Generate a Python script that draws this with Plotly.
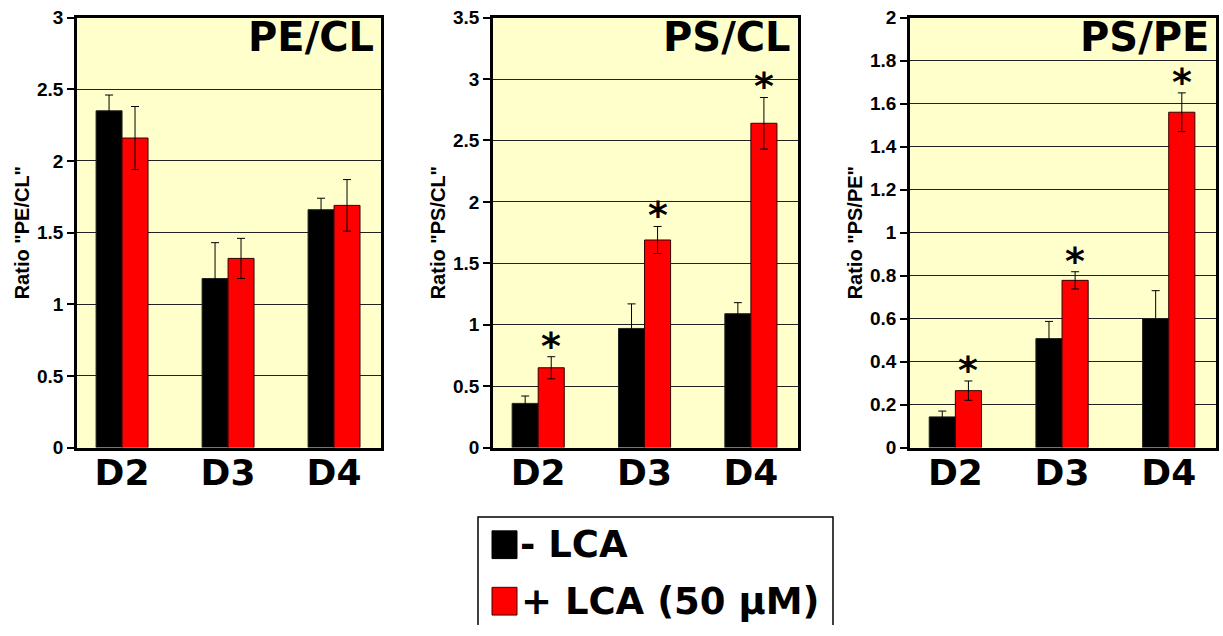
import plotly.graph_objects as go

# ---------------- data ----------------
categories = ["D2", "D3", "D4"]
series_names = ["- LCA", "+ LCA (50 µM)"]

pecl_minus = [2.35, 1.18, 1.66]
pecl_minus_err = [0.11, 0.25, 0.08]
pecl_plus = [2.16, 1.32, 1.69]
pecl_plus_err = [0.22, 0.14, 0.18]

pscl_minus = [0.36, 0.97, 1.09]
pscl_minus_err = [0.06, 0.20, 0.09]
pscl_plus = [0.65, 1.69, 2.64]
pscl_plus_err = [0.09, 0.11, 0.21]

pspe_minus = [0.143, 0.507, 0.60]
pspe_minus_err = [0.027, 0.08, 0.13]
pspe_plus = [0.265, 0.778, 1.56]
pspe_plus_err = [0.045, 0.04, 0.09]

pecl_ticks = ["0", "0.5", "1", "1.5", "2", "2.5", "3"]
pscl_ticks = ["0", "0.5", "1", "1.5", "2", "2.5", "3", "3.5"]
pspe_ticks = ["0", "0.2", "0.4", "0.6", "0.8", "1", "1.2", "1.4", "1.6", "1.8", "2"]

panel_titles = ["PE/CL", "PS/CL", "PS/PE"]
y_titles = ['Ratio "PE/CL"', 'Ratio "PS/CL"', 'Ratio "PS/PE"']
y_tick_labels = [pecl_ticks, pscl_ticks, pspe_ticks]
significant = [[False, False, False], [True, True, True], [True, True, True]]

panels = [
    (pecl_minus, pecl_minus_err, pecl_plus, pecl_plus_err),
    (pscl_minus, pscl_minus_err, pscl_plus, pscl_plus_err),
    (pspe_minus, pspe_minus_err, pspe_plus, pspe_plus_err),
]

# ---------------- layout helpers ----------------
W, H = 1223, 636
def px(x):
    return x / W
def ry(y):
    # compensate the vertical mapping observed in the photographed page
    return (y - 6.3) / 0.976
def py(y):
    return 1 - ry(y) / H

x_domains = [[px(77), px(381)], [px(493), px(798)], [px(910), px(1216)]]
y_domain = [py(448), py(14)]
x_range = [-0.425, 2.443]
x_pos = list(range(len(categories)))

BLACK = "#000000"
RED = "#FF0000"
ARIAL = "Liberation Sans, Arial"
BIGFONT = "DejaVu Sans, Verdana"

fig = go.Figure()
layout = dict(
    width=W, height=H,
    margin=dict(l=0, r=0, t=0, b=0),
    paper_bgcolor="white",
    plot_bgcolor="#FFFFCC",
    barmode="group",
    bargap=0.51,
    bargroupgap=0,
    showlegend=False,
)

annotations = []
for i, (m, me, p, pe) in enumerate(panels):
    sfx = "" if i == 0 else str(i + 1)
    xa, ya = "x" + sfx, "y" + sfx
    fig.add_trace(go.Bar(
        x=x_pos, y=m, name=series_names[0], xaxis=xa, yaxis=ya,
        marker=dict(color=BLACK, line=dict(color="#222222", width=1)),
        error_y=dict(type="data", array=me, color="black", thickness=1, width=4),
        showlegend=False,
    ))
    fig.add_trace(go.Bar(
        x=x_pos, y=p, name=series_names[1], xaxis=xa, yaxis=ya,
        marker=dict(color=RED, line=dict(color="#330000", width=1)),
        error_y=dict(type="data", array=pe, color="black", thickness=1, width=4),
        showlegend=False,
    ))
    labels = y_tick_labels[i]
    vals = [float(t) for t in labels]
    layout["xaxis" + sfx] = dict(
        domain=x_domains[i], anchor=ya, range=x_range,
        tickmode="array", tickvals=x_pos, ticktext=categories,
        showline=True, linecolor="black", linewidth=2.5, mirror=True,
        ticks="", ticklabelstandoff=-9,
        tickfont=dict(family=BIGFONT, size=36, color="black", weight="bold"),
        showgrid=False, zeroline=False, fixedrange=True,
    )
    layout["yaxis" + sfx] = dict(
        domain=y_domain, anchor=xa, range=[vals[0], vals[-1]],
        tickmode="array", tickvals=vals, ticktext=["<b>%s</b>" % t for t in labels],
        ticklabeloverflow="allow",
        showline=True, linecolor="black", linewidth=2.5, mirror=True,
        ticks="outside", ticklen=7, tickwidth=2, tickcolor="black",
        tickfont=dict(family=ARIAL, size=19, color="black"),
        showgrid=True, gridcolor="#222222", gridwidth=1,
        zeroline=False,
        title=dict(text="<b>%s</b>" % y_titles[i],
                   font=dict(family=ARIAL, size=20, color="black"), standoff=3),
        fixedrange=True,
    )
    # panel title
    annotations.append(dict(
        text=panel_titles[i], xref=xa + " domain", yref=ya + " domain",
        x=0.985, y=0.955, xanchor="right", yanchor="middle", showarrow=False,
        font=dict(family=BIGFONT, size=40, color="black", weight="bold"),
    ))
    # significance asterisks above red error bars
    for j in x_pos:
        if significant[i][j]:
            annotations.append(dict(
                text="*", xref=xa, yref=ya, x=x_pos[j], y=p[j] + pe[j],
                xanchor="center", yanchor="bottom", xshift=13, yshift=-13,
                showarrow=False,
                font=dict(family=BIGFONT, size=38, color="black", weight="bold"),
            ))

# legend (drawn box, open at the bottom edge of the picture)
lx0, lx1, ly_top = px(478), px(833), py(518)
shapes = [
    dict(type="path", xref="paper", yref="paper",
         path="M %f,0 L %f,%f L %f,%f L %f,0" % (lx0, lx0, ly_top, lx1, ly_top, lx1),
         line=dict(color="black", width=1.5), fillcolor="white", layer="above"),
    dict(type="rect", xref="paper", yref="paper", x0=px(492), x1=px(517), y0=py(560), y1=py(532),
         line=dict(color="black", width=1), fillcolor=BLACK),
    dict(type="rect", xref="paper", yref="paper", x0=px(492), x1=px(517), y0=py(617), y1=py(589),
         line=dict(color="#400000", width=1), fillcolor=RED),
]
annotations.append(dict(text=series_names[0], xref="paper", yref="paper", x=px(518), y=py(546),
                        xanchor="left", yanchor="middle", showarrow=False,
                        font=dict(family=BIGFONT, size=37, color="black", weight="bold")))
annotations.append(dict(text=series_names[1], xref="paper", yref="paper", x=px(519), y=py(603),
                        xanchor="left", yanchor="middle", showarrow=False,
                        font=dict(family=BIGFONT, size=37, color="black", weight="bold")))

layout["annotations"] = annotations
layout["shapes"] = shapes
fig.update_layout(**layout)
fig.write_html("out.html")
